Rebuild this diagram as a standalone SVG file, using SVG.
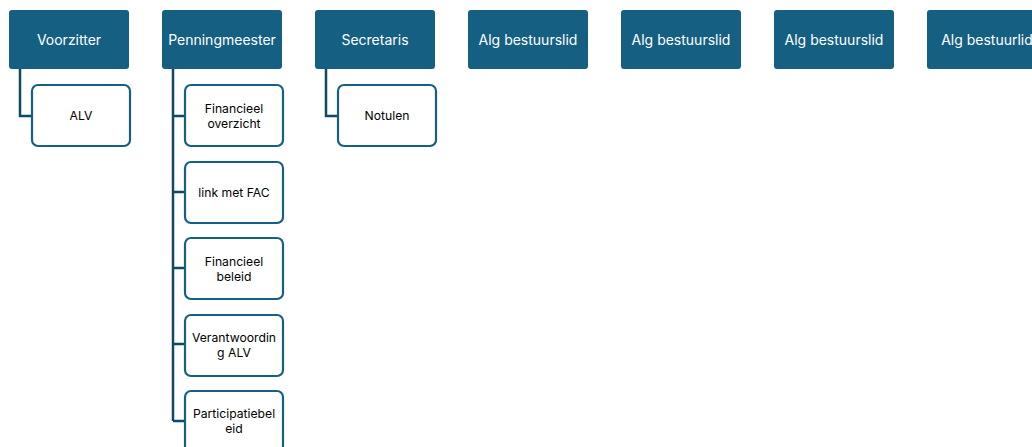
<svg xmlns="http://www.w3.org/2000/svg" width="1032" height="447" viewBox="0 0 1032 447">
<style>
.top{fill:#156082;}
.tt{fill:#ffffff;font-family:Inter,"Liberation Sans",sans-serif;font-size:14px;text-anchor:middle;dominant-baseline:central;}
.ch{fill:#ffffff;stroke:#156082;stroke-width:2.2;}
.ct{fill:#000000;font-family:Inter,"Liberation Sans",sans-serif;font-size:12.2px;text-anchor:middle;dominant-baseline:central;}
.cn{fill:none;stroke:#0e4a66;stroke-width:2.5;}
</style>
<rect width="1032" height="447" fill="#ffffff"/>
<g id="connectors">
<path class="cn" d="M20 69 V116 H32"/>
<path class="cn" d="M173 69 V421 M173 116 H185 M173 192 H185 M173 268 H185 M173 344 H185 M173 421 H185"/>
<path class="cn" d="M326 69 V116 H338"/>
</g>
<g id="voorzitter"><rect class="top" x="9" y="10" width="120" height="59" rx="3"/><text class="tt" x="69" y="39.5">Voorzitter</text></g>
<g id="penningmeester"><rect class="top" x="162" y="10" width="120" height="59" rx="3"/><text class="tt" x="222" y="39.5">Penningmeester</text></g>
<g id="secretaris"><rect class="top" x="315" y="10" width="120" height="59" rx="3"/><text class="tt" x="375" y="39.5">Secretaris</text></g>
<g id="alg1"><rect class="top" x="468" y="10" width="120" height="59" rx="3"/><text class="tt" x="528" y="39.5">Alg bestuurslid</text></g>
<g id="alg2"><rect class="top" x="621" y="10" width="120" height="59" rx="3"/><text class="tt" x="681" y="39.5">Alg bestuurslid</text></g>
<g id="alg3"><rect class="top" x="774" y="10" width="120" height="59" rx="3"/><text class="tt" x="834" y="39.5">Alg bestuurslid</text></g>
<g id="alg4"><rect class="top" x="927" y="10" width="120" height="59" rx="3"/><text class="tt" x="987" y="39.5">Alg bestuurlid</text></g>
<g id="alv"><rect class="ch" x="32" y="85" width="98" height="61" rx="6"/><text class="ct" x="81" y="115.5">ALV</text></g>
<g id="fin-overzicht"><rect class="ch" x="185" y="85" width="98" height="61" rx="6"/><text class="ct" x="234" y="108">Financieel</text><text class="ct" x="234" y="123">overzicht</text></g>
<g id="fac"><rect class="ch" x="185" y="162" width="98" height="61" rx="6"/><text class="ct" x="234" y="192.5">link met FAC</text></g>
<g id="fin-beleid"><rect class="ch" x="185" y="238" width="98" height="61" rx="6"/><text class="ct" x="234" y="261">Financieel</text><text class="ct" x="234" y="276">beleid</text></g>
<g id="verantwoording"><rect class="ch" x="185" y="315" width="98" height="61" rx="6"/><text class="ct" x="234" y="337">Verantwoordin</text><text class="ct" x="234" y="352">g ALV</text></g>
<g id="participatie"><rect class="ch" x="185" y="391" width="98" height="61" rx="6"/><text class="ct" x="234" y="413">Participatiebel</text><text class="ct" x="234" y="428">eid</text></g>
<g id="notulen"><rect class="ch" x="338" y="85" width="98" height="61" rx="6"/><text class="ct" x="387" y="115.5">Notulen</text></g>
</svg>
